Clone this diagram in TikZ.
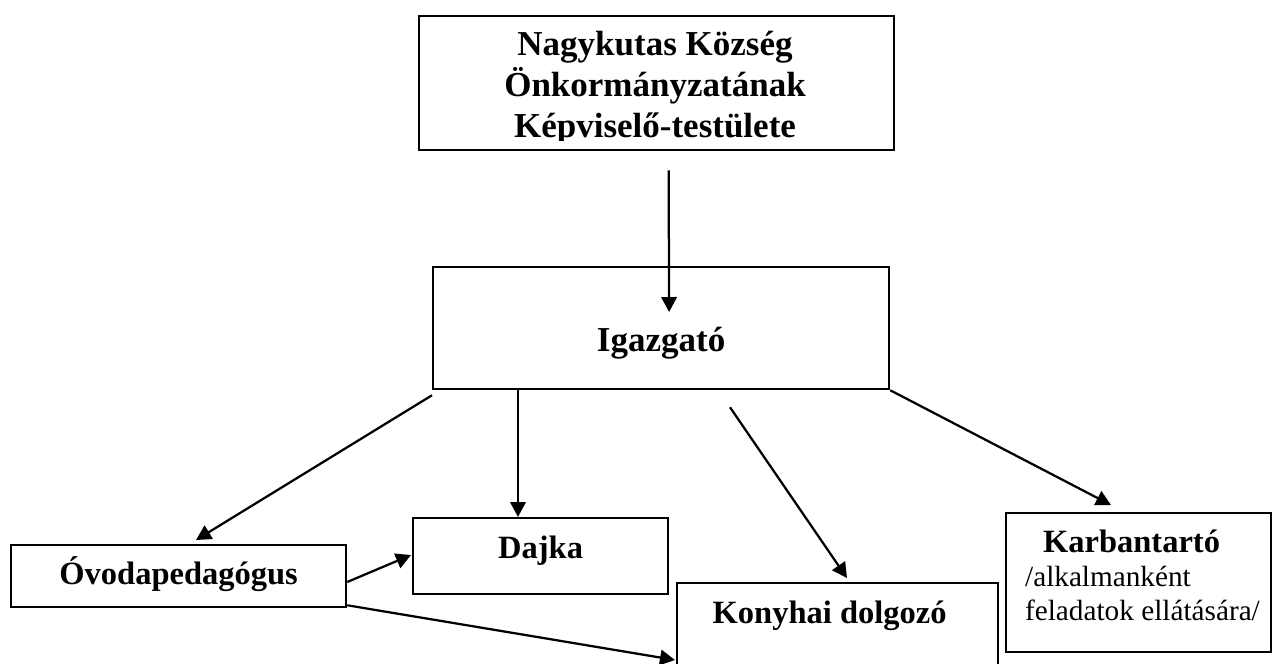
\documentclass[tikz,border=0pt]{standalone}
\usepackage{fontspec}
\setmainfont{Liberation Serif}
\usetikzlibrary{arrows.meta}

\begin{document}
\begin{tikzpicture}[x=0.4pt,y=-0.4pt,line width=0.9pt,
				>={Triangle[length=6pt,width=6.2pt]},
				unit/.style={draw, rectangle, inner sep=0pt, anchor=north west, font=\fontsize{13pt}{15pt}\selectfont\bfseries},
				txt/.style={inner sep=0pt, font=\fontsize{11.7pt}{13.6pt}\selectfont}
			]
			\useasboundingbox (0,0) rectangle (1274,663);
			
			\node[unit, minimum width=190pt, minimum height=53.6pt] (kt_0) at (418,15) {};
			\begin{scope}
				\clip (kt_0.north west) rectangle ([yshift=4.4pt]kt_0.south east);
				\node[txt, align=center, anchor=base, font=\fontsize{14pt}{16.4pt}\selectfont\bfseries] (kt_t) at (655,137) {Nagykutas Község\\Önkormányzatának\\Képviselő-testülete};
			\end{scope}
			
			\node[unit, minimum width=182.4pt, text height=33.6pt, text depth=15.2pt, font=\fontsize{14pt}{16pt}\selectfont\bfseries] (ig_0) at (432,266) {Igazgató};
			\node[unit, minimum width=134pt, text height=15.6pt, text depth=9.2pt] (ov_0) at (10,544) {Óvodapedagógus};
			\node[unit, minimum width=102pt, text height=16pt, text depth=14.4pt] (da_0) at (412,517) {Dajka};
			\node[unit, minimum width=128.4pt, text height=16pt, text depth=40pt] (ko_0) at (676,582) {Konyhai dolgozó\hspace*{6.4pt}};
			
			\node[unit, minimum width=106pt, minimum height=55.6pt] (ka_0) at (1005,512) {};
			\node[txt, align=left, anchor=base west] (ka_t) at (1024,620) {\hspace*{7.2pt}{\fontsize{13pt}{13.6pt}\selectfont\bfseries Karbantartó}\\/alkalmanként\\feladatok ellátására/};
			
			\draw[->] ([shift={(12,19)}]kt_0.south) -- ([shift={(8,46)}]ig_0.north);
			
			\draw[->] ([shift={(0,5)}]ig_0.south west) -- ([shift={(186,-4)}]ov_0.north west);
			\draw[->] ([shift={(86,0)}]ig_0.south west) -- ([shift={(106,0)}]da_0.north west);
			\draw[->] ([shift={(298,17)}]ig_0.south west) -- ([shift={(171,-4)}]ko_0.north west);
			\draw[->] (ig_0.south east) -- ([shift={(106,-7)}]ka_0.north west);
			
			\draw[->] ([shift={(0,38)}]ov_0.north east) -- ([shift={(-1,38)}]da_0.north west);
			\draw[->] ([shift={(0,-3)}]ov_0.south east) -- ([shift={(-1,78)}]ko_0.north west);
		\end{tikzpicture}
\end{document}
